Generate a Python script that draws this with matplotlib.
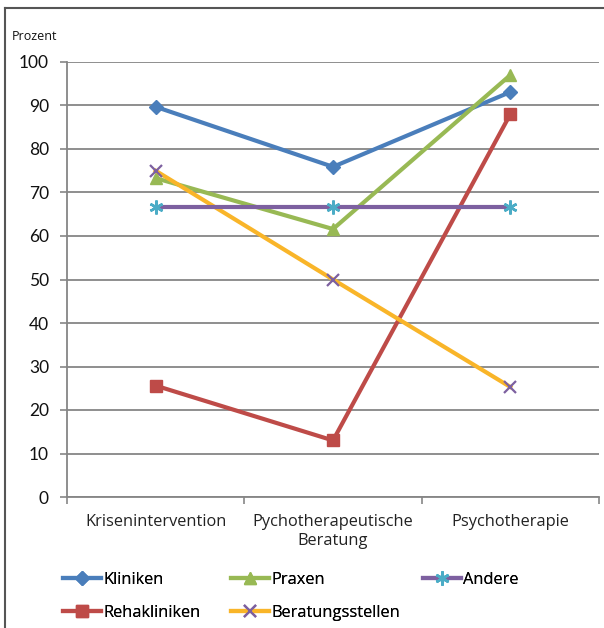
import matplotlib
matplotlib.use('Agg')

import matplotlib.pyplot as plt
from matplotlib.lines import Line2D

plt.rcParams['font.family'] = ['Lato', 'DejaVu Sans']

categories = ['Krisenintervention', 'Pychotherapeutische\nBeratung', 'Psychotherapie']
kliniken = [89.7, 75.9, 93.1]
rehakliniken = [25.6, 13.0, 88.0]
praxen = [73.3, 61.6, 97.0]
andere = [66.7, 66.7, 66.7]
beratung = [75.0, 50.0, 25.3]
yticks = [0, 10, 20, 30, 40, 50, 60, 70, 80, 90, 100]

fig = plt.figure(figsize=(6.04, 6.28), dpi=100)
ax = fig.add_axes([67 / 604, 1 - 497 / 628, 532 / 604, 435 / 628])

x = range(len(categories))
lw = 3.0
h_kl, = ax.plot(x, kliniken, color='#4A7EBB', lw=lw, marker='D', ms=7, label='Kliniken', zorder=5)
h_re, = ax.plot(x, rehakliniken, color='#BE4B48', lw=lw, marker='s', ms=8, label='Rehakliniken', zorder=5)
h_pr, = ax.plot(x, praxen, color='#98B954', lw=lw, marker='^', ms=9, label='Praxen', zorder=5)
h_be, = ax.plot(x, beratung, color='#F9B529', lw=lw, marker='x', ms=9, mew=1.6,
                mec='#7D60A0', label='Beratungsstellen', zorder=5)
h_an, = ax.plot(x, andere, color='#7D60A0', lw=lw, marker=(6, 2, 0), ms=10, mew=1.8,
                mec='#4BACC6', label='Andere', zorder=5)

ax.set_xlim(-0.5, 2.5)
ax.set_ylim(0, 100)
ax.set_yticks(yticks)
ax.set_xticks(x)
ax.set_xticklabels(categories, fontsize=11.8, color='#222222', family='Open Sans',
                   linespacing=1.25)
ax.tick_params(axis='x', length=0, pad=12)
ax.tick_params(axis='y', length=5, width=1.2, color='#868686', labelsize=12.5,
               labelcolor='#111111', pad=8)
ax.set_xticks([-0.5, 0.5, 1.5, 2.5], minor=True)
ax.tick_params(axis='x', which='minor', length=5, width=1.2, color='#868686')

ax.yaxis.grid(True, color='#868686', lw=1.3)
ax.set_axisbelow(True)
for s in ['top', 'right']:
    ax.spines[s].set_visible(False)
ax.spines['left'].set_color('#868686')
ax.spines['bottom'].set_color('#868686')
ax.spines['left'].set_linewidth(1.3)
ax.spines['bottom'].set_linewidth(1.3)

fig.text(12 / 604, 1 - 37 / 628, 'Prozent', fontsize=9, va='center', ha='left',
         color='#111111', family='Open Sans')

# one legend per column, like the Excel layout
columns = [([h_kl, h_re], 63), ([h_pr, h_be], 231), ([h_an], 423)]
for hs, xpix in columns:
    leg = fig.legend(hs, [h.get_label() for h in hs], loc='upper left',
                     bbox_to_anchor=(xpix / 604, 1 - 572 / 628), frameon=False,
                     prop={'family': 'Open Sans', 'size': 11.8}, handlelength=2.3,
                     handletextpad=0.15, labelspacing=1.05, borderpad=0, borderaxespad=0)
    fig.add_artist(leg)

fig.add_artist(Line2D([5 / 604, 5 / 604], [0, 1 - 8 / 628], transform=fig.transFigure,
                      color='#555555', lw=1.5))
fig.add_artist(Line2D([5 / 604, 1], [1 - 8 / 628, 1 - 8 / 628], transform=fig.transFigure,
                      color='#555555', lw=1.5))

fig.savefig('out.png', dpi=100)
